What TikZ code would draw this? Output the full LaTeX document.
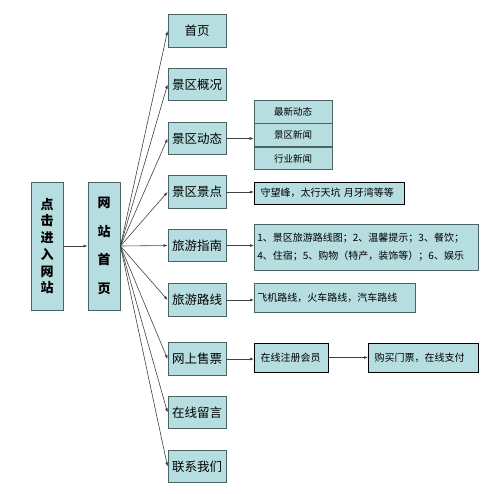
\documentclass[tikz,border=0pt]{standalone}
\usepackage{fontspec}
\setmainfont{Noto Sans CJK SC}
\usetikzlibrary{arrows.meta, positioning}
\definecolor{boxfill}{HTML}{B6DDE0}
\definecolor{boxline}{HTML}{4A6464}

\begin{document}
\begin{tikzpicture}[x=1pt, y=-1pt,
    menubox/.style={draw=boxline, fill=boxfill, line width=0.9pt, inner sep=0pt,
      minimum width=58pt, minimum height=32.5pt, font=\fontsize{12.5}{14}\selectfont},
    tallbox/.style={draw=boxline, fill=boxfill, line width=0.9pt, inner sep=0pt,
      minimum width=32pt, minimum height=128pt, align=center},
    infobox/.style={draw=boxline, fill=boxfill, line width=0.7pt, inner ysep=0pt, inner xsep=3pt,
      minimum height=29pt, align=left, font=\fontsize{10}{18}\selectfont},
    keybox/.style={infobox, draw=black, line width=1pt, inner xsep=6pt},
    cell/.style={infobox, inner sep=0pt, minimum width=78pt, minimum height=22.7pt, align=center,
      font=\fontsize{9.5}{11}\selectfont},
    link/.style={draw=black!75, line width=0.6pt, -{Latex[length=4pt, width=3pt]}}
  ]
  \useasboundingbox (0,0) rectangle (498,493);

  % entry and home page
  \node[tallbox, font=\bfseries\fontsize{13}{16.7}\selectfont] (entry) at (47,246)
    {点\\击\\进\\入\\网\\站};
  \node[tallbox, font=\bfseries\fontsize{13}{28.5}\selectfont] (home) at (104,246)
    {网\\站\\首\\页};
  \draw[link] (entry) -- (home);

  % first level menu
  \foreach \name/\y/\txt in {shouye/31/首页, gaikuang/84.5/景区概况, dongtai/138.5/景区动态,
      jingdian/192/景区景点, zhinan/245.5/旅游指南, luxian/300/旅游路线,
      shoupiao/359/网上售票, liuyan/412.5/在线留言, lianxi/466.5/联系我们}
    \node[menubox] (\name) at (197,\y) {\txt};
  \foreach \name in {shouye, gaikuang, dongtai, jingdian, zhinan, luxian, shoupiao, liuyan, lianxi}
    \draw[link] (home.east) -- (\name.west);

  % news
  \node[cell] (xinwen) at (293,135) {景区新闻};
  \node[cell, above=0pt of xinwen] (zuixin) {最新动态};
  \node[cell, below=0pt of xinwen] (hangye) {行业新闻};
  \draw[link] (dongtai.east) -- (dongtai.east -| xinwen.west);

  % details
  \node[keybox, minimum height=22pt, text width=138pt, anchor=west] (jingdianinfo) at (254,193)
    {守望峰，太行天坑\ 月牙湾等等};
  \node[infobox, minimum height=46pt, text width=218pt, anchor=west] (zhinaninfo) at (254,247)
    {1、景区旅游路线图；2、温馨提示；3、餐饮；\\4、住宿；5、购物（特产，装饰等）；6、娱乐};
  \node[infobox, text width=155pt, anchor=west] (luxianinfo) at (254,297.5)
    {飞机路线，火车路线，汽车路线};
  \node[keybox, text width=62pt, anchor=west] (zhuce) at (254,357.5) {在线注册会员};
  \node[keybox, text width=98pt, anchor=west] (goumai) at (368,357.5) {购买门票，在线支付};

  \draw[link] (jingdian.east) -- (jingdian.east -| jingdianinfo.west);
  \draw[link] (zhinan.east) -- (zhinan.east -| zhinaninfo.west);
  \draw[link] (luxian.east) -- (luxian.east -| luxianinfo.west);
  \draw[link] (shoupiao.east) -- (shoupiao.east -| zhuce.west);
  \draw[link] (zhuce) -- (goumai);
\end{tikzpicture}
\end{document}
